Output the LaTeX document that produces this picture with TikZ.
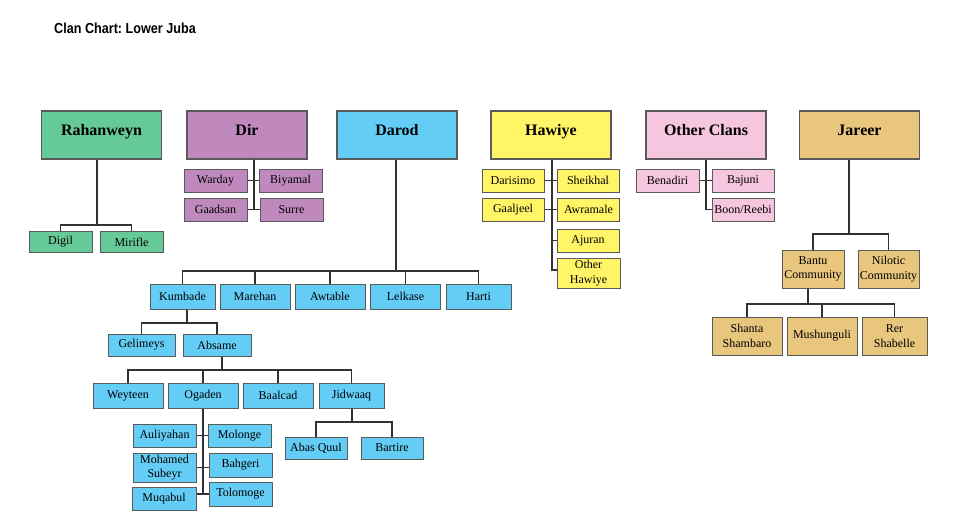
\documentclass[tikz,border=0pt]{standalone}
\usepackage{fontspec}
\setmainfont{Liberation Serif}
\newfontfamily\titleFont[FakeStretch=0.87]{Liberation Sans}
\frenchspacing

\definecolor{clanGreen}{RGB}{102,201,152}
\definecolor{clanPurple}{RGB}{192,137,190}
\definecolor{clanBlue}{RGB}{100,205,245}
\definecolor{clanYellow}{RGB}{255,245,102}
\definecolor{clanPink}{RGB}{246,197,222}
\definecolor{clanTan}{RGB}{232,198,126}
\definecolor{boxLine}{RGB}{90,90,90}
\definecolor{linkGray}{RGB}{50,50,50}

\newcommand\topRow{135}
\newcommand\darodRow{296.5}
\newcommand\absRow{395.5}

\begin{document}
\begin{tikzpicture}[x=1pt, y=-1pt,
  clan/.style={draw=boxLine, line width=1.2pt, minimum width=120pt, minimum height=48pt,
    font=\fontsize{16}{18}\selectfont\bfseries, text height=.7em, text depth=.6em},
  sub/.style={draw=boxLine, line width=1pt, inner sep=0pt, align=center,
    minimum width=63pt, minimum height=23pt, font=\fontsize{12}{14.5}\selectfont},
  link/.style={draw=linkGray, line width=1.5pt}]

    \useasboundingbox (0,0) rectangle (955,524);

    \node[font=\titleFont\fontsize{14.5}{16}\selectfont\bfseries] (title) at (125,28) {Clan Chart: Lower Juba};

    %% top row of clans
    \foreach \id/\xc/\col/\txt in {rah/101.5/clanGreen/Rahanweyn, dir/247/clanPurple/Dir,
      dar/397/clanBlue/Darod, haw/551/clanYellow/Hawiye, oth/706/clanPink/Other Clans, jar/859.5/clanTan/Jareer}{
      \node[clan, fill=\col] (\id) at (\xc,\topRow) {\txt};
    }

    %% Rahanweyn
    \foreach \id/\xc/\txt in {digil/60.5/Digil, mirifle/131.5/Mirifle}{
      \node[sub, fill=clanGreen, minimum height=21pt] (\id) at (\xc,242) {\txt};
    }
    \coordinate (rahBar) at (97,225);
    \draw[link] (rah.south -| rahBar) -- (rahBar);
    \draw[link] (digil.north) |- (rahBar) -| (mirifle.north);

    %% Dir
    \foreach \id/\xc/\yc/\txt in {warday/215.5/180.5/Warday, biyamal/290.5/180.5/Biyamal,
      gaadsan/215.5/209.5/Gaadsan, surre/291.5/209.5/Surre}{
      \node[sub, fill=clanPurple] (\id) at (\xc,\yc) {\txt};
    }
    \coordinate (dirEnd) at (254,210);
    \draw[link] (dir.south -| dirEnd) -- (dirEnd);
    \draw[link] (warday.east) -- (biyamal.west);
    \draw[link] (gaadsan.east) -- (surre.west);

    %% Darod
    \foreach \id/\xc/\bw/\txt in {kumbade/182.5/65/Kumbade, marehan/255/70/Marehan, awtable/330/70/Awtable,
      lelkase/405.5/70/Lelkase, harti/478.5/65/Harti}{
      \node[sub, fill=clanBlue, minimum width=\bw*1pt, minimum height=25pt] (\id) at (\xc,\darodRow) {\txt};
    }
    \coordinate (darBar) at (396,271);
    \draw[link] (dar.south -| darBar) -- (darBar);
    \draw[link] (kumbade.north) |- (darBar) -| (harti.north);
    \foreach \id in {marehan, awtable, lelkase}{
      \draw[link] (\id.north) -- (\id.north |- darBar);
    }

    %% Kumbade
    \node[sub, fill=clanBlue, minimum width=67pt, minimum height=22pt] (gelimeys) at (141.5,345) {Gelimeys};
    \node[sub, fill=clanBlue, minimum width=68pt, minimum height=22pt] (absame) at (217,345) {Absame};
    \coordinate (kumBar) at (187,323);
    \draw[link] (kumbade.south -| kumBar) -- (kumBar);
    \draw[link] (gelimeys.north) |- (kumBar) -| (absame.north);

    %% Absame
    \foreach \id/\xc/\bw/\txt in {weyteen/128/70/Weyteen, ogaden/203/70/Ogaden, baalcad/278/70/Baalcad,
      jidwaaq/351.5/65/Jidwaaq}{
      \node[sub, fill=clanBlue, minimum width=\bw*1pt, minimum height=25pt] (\id) at (\xc,\absRow) {\txt};
    }
    \coordinate (absBar) at (222,370);
    \draw[link] (absame.south -| absBar) -- (absBar);
    \draw[link] (weyteen.north) |- (absBar) -| (jidwaaq.north);
    \foreach \id in {ogaden, baalcad}{
      \draw[link] (\id.north) -- (\id.north |- absBar);
    }

    %% Ogaden
    \node[sub, fill=clanBlue] (auliyahan) at (164.5,435.5) {Auliyahan};
    \node[sub, fill=clanBlue, minimum height=29pt] (mohamed) at (164.5,467.5) {Mohamed\\Subeyr};
    \node[sub, fill=clanBlue, minimum width=64pt] (muqabul) at (164,498.5) {Muqabul};
    \node[sub, fill=clanBlue] (molonge) at (239.5,435.5) {Molonge};
    \node[sub, fill=clanBlue, minimum height=24pt] (bahgeri) at (240.5,465) {Bahgeri};
    \node[sub, fill=clanBlue, minimum height=24pt] (tolomoge) at (240.5,494) {Tolomoge};
    \coordinate (ogaEnd) at (203,494);
    \draw[link] (ogaden.south -| ogaEnd) -- (ogaEnd);
    \draw[link] (auliyahan.east) -- (molonge.west);
    \draw[link] (mohamed.east) -- (mohamed.east -| bahgeri.west);
    \draw[link] (tolomoge.west -| muqabul.east) -- (tolomoge.west);

    %% Jidwaaq
    \node[sub, fill=clanBlue, minimum width=62pt, minimum height=22pt] (abas) at (316,448) {Abas Quul};
    \node[sub, fill=clanBlue, minimum width=62pt, minimum height=22pt] (bartire) at (392,448) {Bartire};
    \coordinate (jidBar) at (352,422);
    \draw[link] (jidwaaq.south -| jidBar) -- (jidBar);
    \draw[link] (abas.north) |- (jidBar) -| (bartire.north);

    %% Hawiye
    \foreach \id/\xc/\yc/\txt in {darisimo/513/180.5/Darisimo, sheikhal/588/180.5/Sheikhal,
      gaaljeel/513/209.5/Gaaljeel, awramale/588.5/209.5/Awramale, ajuran/588/240.5/Ajuran}{
      \node[sub, fill=clanYellow, minimum width=62pt] (\id) at (\xc,\yc) {\txt};
    }
    \node[sub, fill=clanYellow, minimum height=30pt] (othHaw) at (588.5,273) {Other\\Hawiye};
    \coordinate (hawEnd) at (552,270);
    \draw[link] (haw.south -| hawEnd) -- (hawEnd) -- (hawEnd -| othHaw.west);
    \draw[link] (darisimo.east) -- (sheikhal.west);
    \draw[link] (gaaljeel.east) -- (awramale.west);
    \draw[link] (ajuran.west -| hawEnd) -- (ajuran.west);

    %% Other Clans
    \node[sub, fill=clanPink] (benadiri) at (667.5,180.5) {Benadiri};
    \node[sub, fill=clanPink, minimum width=62pt] (bajuni) at (743,180.5) {Bajuni};
    \node[sub, fill=clanPink, minimum width=62pt] (boon) at (743,209.5) {Boon/Reebi};
    \draw[link] (oth.south) |- (boon.west);
    \draw[link] (benadiri.east) -- (bajuni.west);

    %% Jareer
    \node[sub, fill=clanTan, minimum width=62pt, minimum height=38pt] (bantu) at (813,269) {Bantu\\Community};
    \node[sub, fill=clanTan, minimum width=61pt, minimum height=38pt] (nilotic) at (888.5,269) {Nilotic\\Community};
    \coordinate (jarBar) at (849,234);
    \draw[link] (jar.south -| jarBar) -- (jarBar);
    \draw[link] (bantu.north) |- (jarBar) -| (nilotic.north);

    %% Bantu Community
    \foreach \id/\xc/\bw/\txt in {shanta/747/70/Shanta\\Shambaro, mushunguli/822/70/Mushunguli, rer/894.5/65/Rer\\Shabelle}{
      \node[sub, fill=clanTan, minimum width=\bw*1pt, minimum height=38pt] (\id) at (\xc,336) {\txt};
    }
    \coordinate (bantuBar) at (808,304);
    \draw[link] (bantu.south -| bantuBar) -- (bantuBar);
    \draw[link] (shanta.north) |- (bantuBar) -| (rer.north);
    \draw[link] (mushunguli.north) -- (mushunguli.north |- bantuBar);

\end{tikzpicture}
\end{document}
